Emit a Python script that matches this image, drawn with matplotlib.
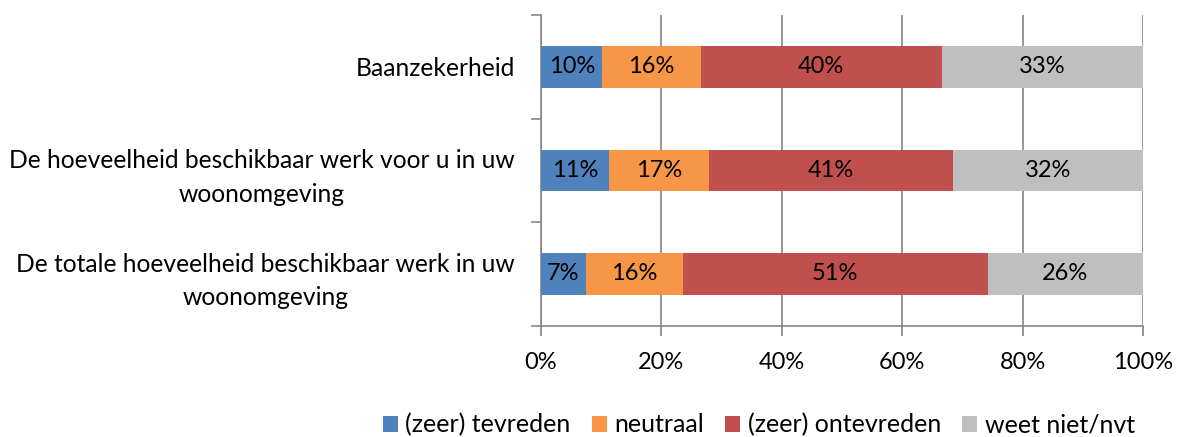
import matplotlib.pyplot as plt
import numpy as np

categories = [
    'Baanzekerheid',
    'De hoeveelheid beschikbaar werk voor u in uw\nwoonomgeving',
    'De totale hoeveelheid beschikbaar werk in uw\nwoonomgeving',
]
series_names = ['(zeer) tevreden', 'neutraal', '(zeer) ontevreden', 'weet niet/nvt']
tevreden = [10.2, 11.3, 7.4]
neutraal = [16.3, 16.6, 16.2]
ontevreden = [40.1, 40.6, 50.6]
weet_niet = [33.4, 31.5, 25.8]
colors = ['#4f81bd', '#f79646', '#c0504d', '#bfbfbf']
x_ticks = [0, 20, 40, 60, 80, 100]

plt.rcParams['font.family'] = ['Lato', 'DejaVu Sans']

fig = plt.figure(figsize=(11.8, 4.37), dpi=100)
ax = fig.add_axes([0.4585, 0.2547, 0.5101, 0.7105])

y = np.arange(len(categories))
left = np.zeros(len(categories))
for name, vals, col in zip(series_names, [tevreden, neutraal, ontevreden, weet_niet], colors):
    vals = np.array(vals)
    ax.barh(y, vals, left=left, height=0.4, color=col, label=name, zorder=3)
    for yi, l, v in zip(y, left, vals):
        ax.text(l + v / 2, yi, f'{round(v):.0f}%', ha='center', va='center',
                fontsize=17, color='black', zorder=4)
    left += vals

ax.set_xlim(0, 100)
ax.set_ylim(len(categories) - 0.5, -0.5)
ax.set_xticks(x_ticks)
ax.set_xticklabels([f'{t}%' for t in x_ticks], fontsize=17)
ax.set_yticks(y)
ax.set_yticklabels(categories, fontsize=17.7, ha='right', multialignment='center',
                   linespacing=1.55)
ax.tick_params(axis='y', length=0, pad=19)
ax.set_yticks(np.arange(-0.5, len(categories), 1), minor=True)
ax.tick_params(axis='y', which='minor', length=7, color='#868686', width=1.2)
ax.tick_params(axis='x', length=7, color='#868686', width=1.2, pad=12)
ax.grid(axis='x', color='#868686', linewidth=1.2, zorder=0)

for s in ['top', 'right']:
    ax.spines[s].set_visible(False)
for s in ['left', 'bottom']:
    ax.spines[s].set_color('#868686')
    ax.spines[s].set_linewidth(1.2)

fig.legend(loc='center', bbox_to_anchor=(0.643, 0.028), ncol=4, frameon=False,
           fontsize=18, handlelength=0.6, handleheight=0.6, handletextpad=0.3,
           columnspacing=0.85, borderpad=0.2)

fig.savefig('out.png', dpi=100)
